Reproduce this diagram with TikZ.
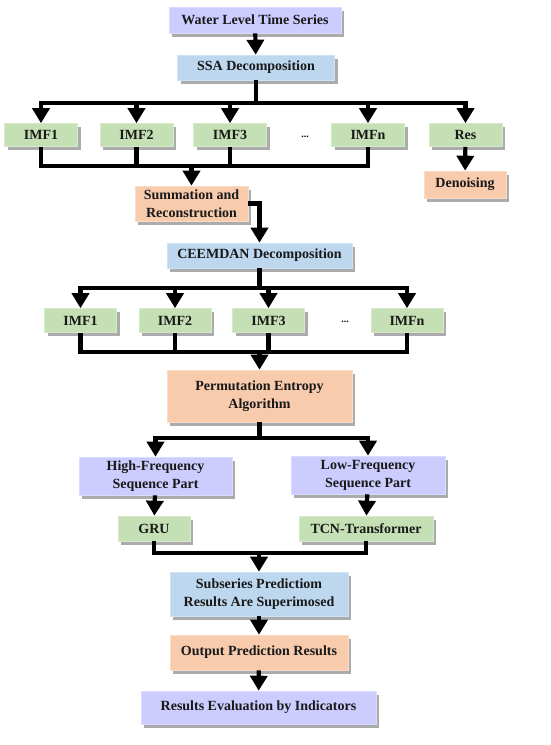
\documentclass[tikz,border=0pt]{standalone}
\usepackage{fontspec}
\setmainfont{Liberation Serif}
\usetikzlibrary{arrows.meta,shadows}

\definecolor{lav}{HTML}{CCCCFF}
\definecolor{sky}{HTML}{BDD7EE}
\definecolor{leaf}{HTML}{C5E0B4}
\definecolor{peach}{HTML}{F8CBAD}

\tikzset{
  box/.style={draw=#1!70!white, line width=0.6pt, fill=#1, align=center,
    inner sep=0pt, font=\fontsize{14}{18}\selectfont\bfseries,
    text=black!90,
    drop shadow={shadow xshift=3pt, shadow yshift=-3.5pt, opacity=0.55, fill=black!60}},
  link/.style={line width=4.2pt, draw=black, line join=miter},
  arr/.style={link, -{Triangle[width=17pt,length=15pt]}},
  arrs/.style={link, {Triangle[width=17pt,length=15pt]}-{Triangle[width=17pt,length=15pt]}},
}

\begin{document}
\begin{tikzpicture}
      [x=1pt,y=-1pt]
      \useasboundingbox (0,0) rectangle (550,745);

      % top: series and SSA
      \node[box=lav, minimum width=172, minimum height=26] (wls) at (255,20) {Water Level Time Series};
      \node[box=sky, minimum width=157, minimum height=25] (ssa) at (256,67.5) {SSA Decomposition};

      % SSA components
      \foreach \n/\x/\t in {A1/41/IMF1, A2/136.5/IMF2, A3/230/IMF3, An/368/IMFn, res/465.5/Res} {
        \node[box=leaf, minimum width=73, minimum height=23] (imf\n) at (\x,135) {\t};
      }
      \node[font=\bfseries] (dotsA) at (305,137) {...};
      \node[box=peach, minimum width=82, minimum height=27] (den) at (465,184.5) {Denoising};
      \node[box=peach, minimum width=113, minimum height=35] (sum) at (191.5,203.5) {Summation and\\Reconstruction};

      % CEEMDAN and its components
      \node[box=sky, minimum width=185, minimum height=25] (ceemdan) at (259.5,255.5) {CEEMDAN Decomposition};
      \foreach \n/\x/\t in {B1/80.5/IMF1, B2/175/IMF2, B3/268.5/IMF3, Bn/407/IMFn} {
        \node[box=leaf, minimum width=72, minimum height=24] (imf\n) at (\x,320.5) {\t};
      }
      \node[font=\bfseries] (dotsB) at (345,322) {...};
      \node[box=peach, minimum width=185, minimum height=52] (pe) at (259.5,396) {Permutation Entropy\\Algorithm};

      % frequency parts and models
      \node[box=lav, minimum width=153, minimum height=38] (high) at (155.5,476) {High-Frequency\\Sequence Part};
      \node[box=lav, minimum width=154, minimum height=38] (low) at (368,475) {Low-Frequency\\Sequence Part};
      \node[box=leaf, minimum width=72, minimum height=25] (gru) at (154,528.5) {GRU};
      \node[box=leaf, minimum width=134, minimum height=25] (tcn) at (366,528.5) {TCN-Transformer};

      % results
      \node[box=sky, minimum width=178, minimum height=44] (sub) at (259,594) {Subseries Predictiom\\Results Are Superimosed};
      \node[box=peach, minimum width=178, minimum height=35] (out) at (259,652.5) {Output Prediction Results};
      \node[box=lav, minimum width=235, minimum height=33] (eval) at (258.5,707.5) {Results Evaluation by Indicators};

      % bar levels
      \coordinate (barA) at (0,103);
      \coordinate (barB) at (0,166);
      \coordinate (barC) at (0,288);
      \coordinate (barD) at (0,352);
      \coordinate (barE) at (0,438);
      \coordinate (barF) at (0,553);

      % connectors
      \draw[arr] (wls) -- (ssa);
      \draw[link] (ssa.south) -- (ssa.south |- barA);
      \draw[arrs] (imfA1.north) |- (imfres.north |- barA) -- (imfres.north);
      \foreach \n in {A2,A3,An} {
        \draw[arr] (imf\n.north |- barA) -- (imf\n.north);
      }
      \draw[arr] (imfres) -- (den);
      \draw[link] (imfA1.south) |- (imfAn.south |- barB) -- (imfAn.south);
      \foreach \n in {A2,A3} {
        \draw[link] (imf\n.south) -- (imf\n.south |- barB);
      }
      \draw[arr] (sum.north |- barB) -- (sum.north);
      \draw[arr] (sum.east) -| (ceemdan.north);

      \draw[link] (ceemdan.south) -- (ceemdan.south |- barC);
      \draw[arrs] (imfB1.north) |- (imfBn.north |- barC) -- (imfBn.north);
      \foreach \n in {B2,B3} {
        \draw[arr] (imf\n.north |- barC) -- (imf\n.north);
      }
      \draw[link] (imfB1.south) |- (imfBn.south |- barD) -- (imfBn.south);
      \foreach \n in {B2,B3} {
        \draw[link] (imf\n.south) -- (imf\n.south |- barD);
      }
      \draw[arr] (pe.north |- barD) -- (pe.north);

      \draw[link] (pe.south) -- (pe.south |- barE);
      \draw[arrs] (high.north) |- (low.north |- barE) -- (low.north);
      \draw[arr] (high) -- (gru);
      \draw[arr] (low) -- (tcn);
      \draw[link] (gru.south) |- (tcn.south |- barF) -- (tcn.south);
      \draw[arr] (sub.north |- barF) -- (sub.north);
      \draw[arr] (sub) -- (out);
      \draw[arr] (out) -- (eval);
\end{tikzpicture}
\end{document}
